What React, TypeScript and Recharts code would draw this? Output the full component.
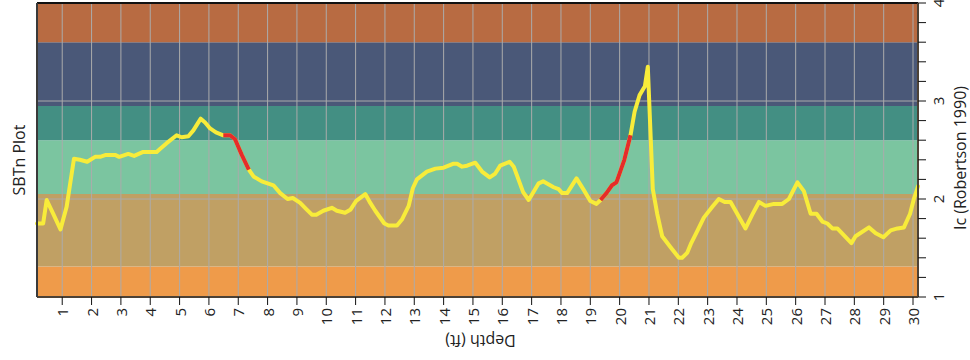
import React from 'react';
import { LineChart, Line, XAxis, YAxis, ReferenceArea, ReferenceLine } from 'recharts';

const depths = [
  0.14, 0.35, 0.47, 0.69, 0.94, 1.15, 1.40, 1.60, 1.85, 2.12, 2.29, 2.49, 2.80, 2.94, 3.25, 3.45,
  3.76, 4.22, 4.33, 4.56, 4.90, 5.07, 5.30, 5.47, 5.72, 5.87, 6.04, 6.24, 6.49, 6.72, 6.89, 7.12,
  7.36, 7.52, 7.80, 8.20, 8.43, 8.68, 8.86, 9.11, 9.31, 9.51, 9.66, 9.90, 10.19, 10.36, 10.64,
  10.82, 11.02, 11.33, 11.50, 11.67, 11.98, 12.12, 12.41, 12.58, 12.81, 12.95, 13.09, 13.43,
  13.72, 14.00, 14.34, 14.46, 14.63, 14.80, 15.08, 15.31, 15.57, 15.76, 15.93, 16.25, 16.39,
  16.71, 16.90, 17.24, 17.39, 17.75, 17.92, 18.04, 18.21, 18.53, 18.78, 19.00, 19.21, 19.35,
  19.55, 19.74, 19.89, 20.16, 20.37, 20.51, 20.68, 20.86, 20.96, 21.13, 21.28, 21.45, 21.73,
  22.02, 22.13, 22.30, 22.44, 22.64, 22.87, 23.16, 23.38, 23.58, 23.78, 23.95, 24.29, 24.52,
  24.75, 24.97, 25.26, 25.54, 25.77, 26.06, 26.28, 26.51, 26.71, 26.91, 27.08, 27.25, 27.42,
  27.90, 28.04, 28.50, 28.73, 28.99, 29.24, 29.47, 29.69, 29.90, 30.02, 30.17,
];

const icValues = [
  1.75, 1.75, 1.99, 1.85, 1.69, 1.92, 2.41, 2.40, 2.38, 2.43, 2.43, 2.45, 2.45, 2.43, 2.46, 2.44,
  2.48, 2.48, 2.51, 2.57, 2.65, 2.63, 2.64, 2.70, 2.82, 2.78, 2.72, 2.68, 2.65, 2.65, 2.61, 2.45,
  2.30, 2.23, 2.18, 2.14, 2.06, 2.00, 2.01, 1.96, 1.90, 1.84, 1.84, 1.88, 1.91, 1.88, 1.86,
  1.89, 1.98, 2.05, 1.96, 1.88, 1.75, 1.73, 1.73, 1.79, 1.93, 2.11, 2.20, 2.28,
  2.31, 2.32, 2.36, 2.36, 2.33, 2.34, 2.37, 2.28, 2.22, 2.26, 2.34, 2.38, 2.33,
  2.07, 1.99, 2.16, 2.18, 2.12, 2.10, 2.06, 2.06, 2.21, 2.09, 1.98, 1.95, 1.99,
  2.06, 2.14, 2.17, 2.40, 2.65, 2.89, 3.06, 3.15, 3.35, 2.10, 1.85, 1.62, 1.51,
  1.40, 1.40, 1.45, 1.55, 1.67, 1.81, 1.92, 2.00, 1.97, 1.97, 1.88, 1.70, 1.84,
  1.97, 1.93, 1.95, 1.95, 2.00, 2.17, 2.08, 1.85, 1.85, 1.77, 1.75, 1.70, 1.70,
  1.55, 1.62, 1.71, 1.65, 1.61, 1.68, 1.70, 1.71, 1.85, 1.99, 2.13,
];

const redRanges: [number, number][] = [
  [6.49, 7.36],
  [19.35, 20.37],
];

const xTicks = [1, 2, 3, 4, 5, 6, 7, 8, 9, 10, 11, 12, 13, 14, 15, 16, 17, 18, 19, 20, 21, 22, 23, 24, 25, 26, 27, 28, 29, 30];
const yTicks = [1, 1.2, 1.4, 1.6, 1.8, 2, 2.2, 2.4, 2.6, 2.8, 3, 3.2, 3.4, 3.6, 3.8, 4];
const yLabelValues = [1, 2, 3, 4];
const gridY = [2, 3];

const bandEdges = [1, 1.31, 2.05, 2.6, 2.95, 3.6, 4];
const bandColors = ['#EF9B4A', '#C0A064', '#7BC5A0', '#438F83', '#4A5878', '#B86B42'];

const FONT = '"Open Sans", "DejaVu Sans", sans-serif';

const data = depths.map((d, i) => ({
  depth: d,
  ic: icValues[i],
  red: redRanges.some(([a, b]) => d >= a - 1e-9 && d <= b + 1e-9) ? icValues[i] : null,
}));

const XTick = (props: any) => {
  const { x, y, payload } = props;
  const ty = y + 1;
  return (
    <text
      x={x}
      y={ty}
      transform={`rotate(-90 ${x} ${ty})`}
      textAnchor="end"
      dominantBaseline="central"
      fontSize={15}
      fontFamily={FONT}
      fill="#222"
    >
      {payload.value}
    </text>
  );
};

const YTick = (props: any) => {
  const { x, y, payload } = props;
  const v = payload.value;
  if (!yLabelValues.some((t) => Math.abs(t - v) < 1e-6)) return <g />;
  const tx = x + 10;
  return (
    <text
      x={tx}
      y={y}
      transform={`rotate(-90 ${tx} ${y})`}
      textAnchor="middle"
      dominantBaseline="central"
      fontSize={15}
      fontFamily={FONT}
      fill="#222"
    >
      {Math.round(v)}
    </text>
  );
};

const LeftTitle = (props: any) => {
  const vb = props.viewBox || {};
  const cx = (vb.x ?? 0) + 18.5;
  const cy = (vb.y ?? 3) + (vb.height ?? 294) / 2 + 10;
  return (
    <text x={cx} y={cy} transform={`rotate(-90 ${cx} ${cy})`} textAnchor="middle" dominantBaseline="central" fontSize={16} fontFamily={FONT} fill="#222">
      SBTn Plot
    </text>
  );
};

const RightTitle = (props: any) => {
  const vb = props.viewBox || {};
  const cx = (vb.x ?? 918) + 42;
  const cy = (vb.y ?? 3) + (vb.height ?? 294) / 2 + 8;
  return (
    <text x={cx} y={cy} transform={`rotate(-90 ${cx} ${cy})`} textAnchor="middle" dominantBaseline="central" fontSize={16} fontFamily={FONT} fill="#222">
      Ic (Robertson 1990)
    </text>
  );
};

const BottomTitle = (props: any) => {
  const vb = props.viewBox || {};
  const cx = (vb.x ?? 37) + (vb.width ?? 881) / 2 + 3;
  const cy = (vb.y ?? 297) + 44;
  return (
    <text x={cx} y={cy} transform={`rotate(180 ${cx} ${cy})`} textAnchor="middle" dominantBaseline="central" fontSize={16} fontFamily={FONT} fill="#222">
      Depth (ft)
    </text>
  );
};

export default function App() {
  return (
    <div style={{ position: 'absolute', left: 0, top: 0, width: 970, height: 360, background: '#fff' }}>
      <LineChart width={970} height={360} data={data} margin={{ top: 3, right: 0, bottom: 0, left: 0 }}>
        {bandColors.map((c, i) => (
          <ReferenceArea key={`b${i}`} y1={bandEdges[i]} y2={bandEdges[i + 1]} fill={c} fillOpacity={1} stroke="none" ifOverflow="visible" />
        ))}
        {xTicks.map((t) => (
          <ReferenceLine key={`gx${t}`} x={t} stroke="#ababab" strokeWidth={1} />
        ))}
        {gridY.map((t) => (
          <ReferenceLine key={`gy${t}`} y={t} stroke="#ababab" strokeWidth={1} />
        ))}
        <ReferenceLine y={4} stroke="#111" strokeWidth={2} />
        <XAxis
          dataKey="depth"
          type="number"
          domain={['dataMin', 'dataMax']}
          ticks={xTicks}
          interval={0}
          height={63}
          tickSize={8}
          tick={<XTick />}
          axisLine={{ stroke: '#4d4236', strokeWidth: 2 }}
          tickLine={{ stroke: '#111' }}
          label={{ content: <BottomTitle /> }}
        />
        <YAxis
          yAxisId="left"
          orientation="left"
          width={37}
          domain={[1, 4]}
          tick={false}
          tickLine={false}
          axisLine={{ stroke: '#3a3a3a', strokeWidth: 2 }}
          label={{ content: <LeftTitle /> }}
        />
        <YAxis
          orientation="right"
          width={52}
          domain={[1, 4]}
          ticks={yTicks}
          interval={0}
          tickSize={8}
          tick={<YTick />}
          axisLine={{ stroke: '#4d4236', strokeWidth: 2 }}
          tickLine={{ stroke: '#111' }}
          label={{ content: <RightTitle /> }}
        />
        <Line
          type="linear"
          dataKey="ic"
          stroke="#F8EC3A"
          strokeWidth={4}
          strokeLinejoin="round"
          strokeLinecap="round"
          dot={false}
          activeDot={false}
          isAnimationActive={false}
        />
        <Line
          type="linear"
          dataKey="red"
          stroke="#E52B2B"
          strokeWidth={4}
          strokeLinejoin="round"
          dot={false}
          activeDot={false}
          connectNulls={false}
          isAnimationActive={false}
        />
      </LineChart>
    </div>
  );
}
